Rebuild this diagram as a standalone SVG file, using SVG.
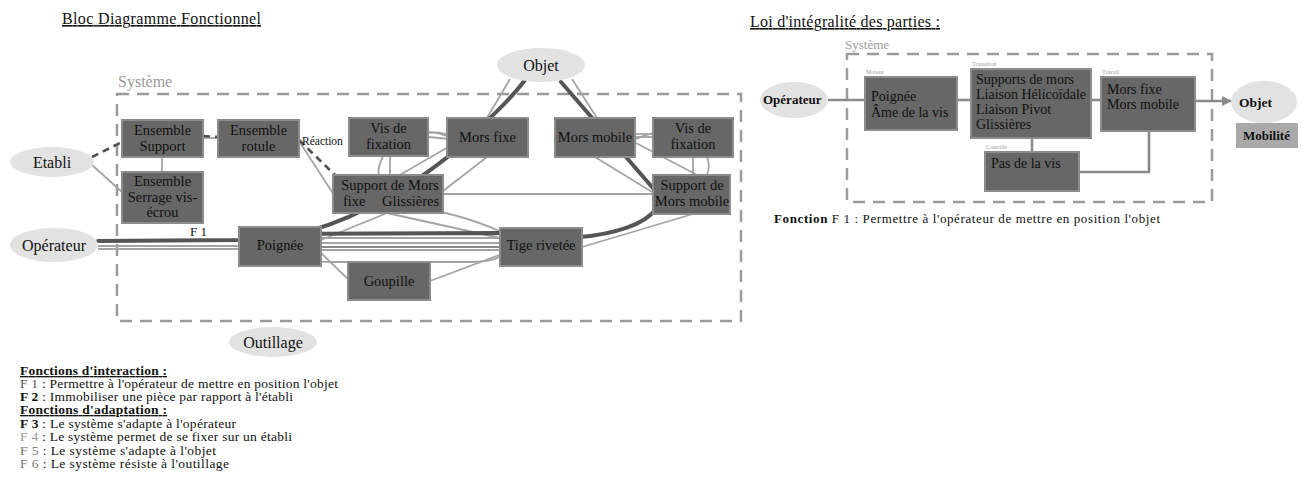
<svg xmlns="http://www.w3.org/2000/svg" width="1309" height="491" viewBox="0 0 1309 491">
<defs>
<marker id="arr" markerWidth="10" markerHeight="10" refX="9" refY="5" orient="auto" markerUnits="userSpaceOnUse">
<path d="M0,0 L10,5 L0,10 Z" fill="#8a8a8a"/>
</marker>
<style>
text{font-family:"Liberation Serif","Times New Roman",serif;fill:#111}
.box{fill:#676767;stroke:#8c8c8c;stroke-width:2}
.ell{fill:#e2e2e2;stroke:none}
.bt{font-size:14.5px;text-anchor:middle}
.et{font-size:16px;text-anchor:middle}
.sys{fill:none;stroke:#9a9a9a;stroke-width:2.5;stroke-dasharray:12 8}
.thin{fill:none;stroke:#a4a4a4;stroke-width:1.8}
.mid{fill:none;stroke:#8a8a8a;stroke-width:2}
.thick{fill:none;stroke:#555;stroke-width:4;stroke-linecap:round}
.dash{fill:none;stroke:#505050;stroke-width:2.6;stroke-dasharray:7 5}
.rl{fill:none;stroke:#8a8a8a;stroke-width:2.6}
.tiny{font-size:6px;fill:#999}
.rt{font-size:14px}
.list{font-size:13.5px}
</style>
</defs>
<rect width="1309" height="491" fill="#ffffff"/>

<!-- Left diagram -->
<text x="62" y="24" font-size="16" text-decoration="underline" textLength="199">Bloc Diagramme Fonctionnel</text>
<text x="118" y="87" font-size="16" style="fill:#9a9a9a">Système</text>
<rect class="sys" x="117" y="94" width="624" height="227"/>

<g id="connectors">
<!-- thin gray -->
<path class="thin" d="M92 165 L122 192"/>
<path class="thin" d="M162 157 V172"/>
<path class="thin" d="M203 138 L218 138"/>
<path class="thin" d="M299 141 L334 195"/>
<path class="thin" d="M428 133 Q440 131 451 136"/>
<path class="thin" d="M428 137 L450 139"/>
<path class="thin" d="M452 139 C440 130 402 128 393 140 C385 152 376 165 379 177"/>
<path class="thin" d="M390 156 V175"/>
<path class="thin" d="M450 146 L398 176"/>
<path class="thin" d="M487 157 L443 191"/>
<path class="thin" d="M510 79 L487 118"/>
<path class="thin" d="M572 79 L597 118"/>
<path class="thin" d="M443 194 L653 194"/>
<path class="thin" d="M635 134 L653 134"/>
<path class="thin" d="M635 137 L653 137"/>
<path class="thin" d="M636 139 C660 128 690 128 700 140 C708 155 712 170 705 177"/>
<path class="thin" d="M693 157 V175"/>
<path class="thin" d="M636 143 L703 178"/>
<path class="thin" d="M595 157 L652 192"/>
<path class="thin" d="M693 214 L582 247"/>
<path class="thin" d="M387 213 L321 240"/>
<path class="thin" d="M387 213 L500 238"/>
<path class="thin" d="M350 213 C380 200 440 205 502 232"/>
<path class="thin" d="M98 246 L239 246"/>
<path class="thin" d="M98 249 L239 249"/>
<path class="thin" d="M321 238 L500 238"/>
<path class="thin" d="M321 243 L500 243"/>
<path class="mid" d="M321 247 L500 247"/>
<path class="thin" d="M321 250 L500 250"/>
<path class="thin" d="M321 250 C295 252 295 262 330 262 L470 262 C495 262 505 256 500 251"/>
<path class="thin" d="M321 253 L350 281"/>
<path class="thin" d="M430 281 L502 254"/>
<!-- dashed F2 -->
<path class="dash" d="M92 157 L122 142"/>
<path class="dash" d="M203 136 L218 137"/>
<path class="dash" d="M299 140 L335 175"/>
<!-- thick F1 -->
<path class="thick" d="M98 241 L240 240 C270 239 290 236 310 231 C340 222 360 212 380 202 C410 185 440 165 465 142 C490 118 510 100 525 80"/>
<path class="thick" d="M240 234 L500 233 C530 234 555 238 580 237 C615 234 645 224 655 210 C660 200 657 193 652 187 L561 82"/>
</g>

<text x="190" y="236" font-size="13">F 1</text>
<text x="302" y="145" font-size="11.5">Réaction</text>

<g id="etabli"><ellipse class="ell" cx="52" cy="162" rx="42" ry="15"/><text class="et" x="52" y="168">Etabli</text></g>
<g id="operateur"><ellipse class="ell" cx="54" cy="245" rx="44" ry="17"/><text class="et" x="54" y="251">Opérateur</text></g>
<g id="objet"><ellipse class="ell" cx="541" cy="65" rx="44" ry="17"/><text class="et" x="541" y="71">Objet</text></g>
<g id="outillage"><ellipse class="ell" cx="273" cy="342" rx="44" ry="15"/><text class="et" x="273" y="348">Outillage</text></g>

<g id="ensemble-support"><rect class="box" x="122" y="120" width="81" height="37"/><text class="bt" x="162.5" y="135">Ensemble</text><text class="bt" x="162.5" y="151">Support</text></g>
<g id="ensemble-rotule"><rect class="box" x="218" y="120" width="81" height="37"/><text class="bt" x="258.5" y="135">Ensemble</text><text class="bt" x="258.5" y="151">rotule</text></g>
<g id="ensemble-serrage"><rect class="box" x="122" y="172" width="81" height="51"/><text class="bt" x="162.5" y="186">Ensemble</text><text class="bt" x="162.5" y="202">Serrage vis-</text><text class="bt" x="162.5" y="217">écrou</text></g>
<g id="vis-fixation-1"><rect class="box" x="349" y="118" width="79" height="38"/><text class="bt" x="388.5" y="133">Vis de</text><text class="bt" x="388.5" y="149">fixation</text></g>
<g id="mors-fixe"><rect class="box" x="447" y="118" width="81" height="39"/><text class="bt" x="487.5" y="142">Mors fixe</text></g>
<g id="mors-mobile"><rect class="box" x="555" y="118" width="80" height="39"/><text class="bt" x="595" y="142">Mors mobile</text></g>
<g id="vis-fixation-2"><rect class="box" x="653" y="118" width="80" height="39"/><text class="bt" x="693" y="133">Vis de</text><text class="bt" x="693" y="149">fixation</text></g>
<g id="support-mors-fixe"><rect class="box" x="333" y="175" width="110" height="38"/><text class="bt" x="390" y="190">Support de Mors</text><text x="343" y="206" font-size="14.5">fixe</text><text x="382" y="206" font-size="14.5">Glissières</text></g>
<g id="support-mors-mobile"><rect class="box" x="653" y="175" width="77" height="39"/><text class="bt" x="692" y="190">Support de</text><text class="bt" x="692" y="206">Mors mobile</text></g>
<g id="poignee"><rect class="box" x="239" y="227" width="82" height="39"/><text class="bt" x="280" y="250">Poignée</text></g>
<g id="tige-rivetee"><rect class="box" x="500" y="228" width="82" height="38"/><text class="bt" x="541" y="250">Tige rivetée</text></g>
<g id="goupille"><rect class="box" x="348" y="262" width="82" height="38"/><text class="bt" x="389" y="286">Goupille</text></g>

<!-- Bottom list -->
<g id="legend" class="list">
<text x="20" y="375" font-weight="bold" text-decoration="underline" textLength="147">Fonctions d'interaction :</text>
<text x="20" y="388" textLength="318"><tspan style="fill:#555">F 1</tspan> : Permettre à l'opérateur de mettre en position l'objet</text>
<text x="20" y="401" textLength="273"><tspan font-weight="bold">F 2</tspan> : Immobiliser une pièce par rapport à l'établi</text>
<text x="20" y="414" font-weight="bold" text-decoration="underline" textLength="147">Fonctions d'adaptation :</text>
<text x="20" y="428" textLength="216"><tspan font-weight="bold">F 3</tspan> : Le système s'adapte à l'opérateur</text>
<text x="20" y="441" textLength="272"><tspan style="fill:#999">F 4</tspan> : Le système permet de se fixer sur un établi</text>
<text x="20" y="455" textLength="196"><tspan style="fill:#777">F 5</tspan> : Le système s'adapte à l'objet</text>
<text x="20" y="468" textLength="209"><tspan style="fill:#777">F 6</tspan> : Le système résiste à l'outillage</text>
</g>

<!-- Right diagram -->
<text x="750" y="27" font-size="16" text-decoration="underline" textLength="190">Loi d'intégralité des parties :</text>
<text x="845" y="49" font-size="13" style="fill:#9a9a9a">Système</text>
<rect class="sys" x="847" y="54" width="365" height="148"/>

<g id="r-connectors">
<path class="rl" d="M828 100 L865 100"/>
<path class="rl" d="M957 100 L971 100"/>
<path class="rl" d="M1091 100 L1101 100"/>
<path class="rl" d="M1195 101 L1231 101" marker-end="url(#arr)"/>
<path class="rl" d="M1032 138 V152"/>
<path class="rl" d="M1079 172 H1149 V131"/>
</g>

<g id="r-operateur"><ellipse class="ell" cx="794" cy="100" rx="34" ry="18"/><text x="763" y="104" font-size="13" font-weight="bold">Opérateur</text></g>
<g id="r-moteur"><rect class="box" x="865" y="77" width="92" height="53"/><text class="tiny" x="866" y="74">Moteur</text><text class="rt" x="871" y="101">Poignée</text><text class="rt" x="871" y="117">Âme de la vis</text></g>
<g id="r-transition"><rect class="box" x="971" y="69" width="120" height="69"/><text class="tiny" x="972" y="66">Transition</text><text class="rt" x="976" y="84">Supports de mors</text><text class="rt" x="976" y="99">Liaison Hélicoïdale</text><text class="rt" x="976" y="114">Liaison Pivot</text><text class="rt" x="976" y="129">Glissières</text></g>
<g id="r-travail"><rect class="box" x="1101" y="77" width="94" height="54"/><text class="tiny" x="1102" y="74">Travail</text><text class="rt" x="1107" y="94">Mors fixe</text><text class="rt" x="1107" y="109">Mors mobile</text></g>
<g id="r-controle"><rect class="box" x="985" y="152" width="94" height="39"/><text class="tiny" x="986" y="149">Contrôle</text><text class="rt" x="991" y="168">Pas de la vis</text></g>
<g id="r-objet"><ellipse class="ell" cx="1264" cy="102" rx="33" ry="21"/><text x="1239" y="107" font-size="13.5" font-weight="bold">Objet</text></g>
<g id="r-mobilite"><rect x="1236" y="123" width="62" height="25" fill="#a9a9a9"/><text x="1243" y="140" font-size="13" font-weight="bold">Mobilité</text></g>

<text x="774" y="223" font-size="13" textLength="386"><tspan font-weight="bold">Fonction</tspan> F 1 : Permettre à l'opérateur de mettre en position l'objet</text>
</svg>
